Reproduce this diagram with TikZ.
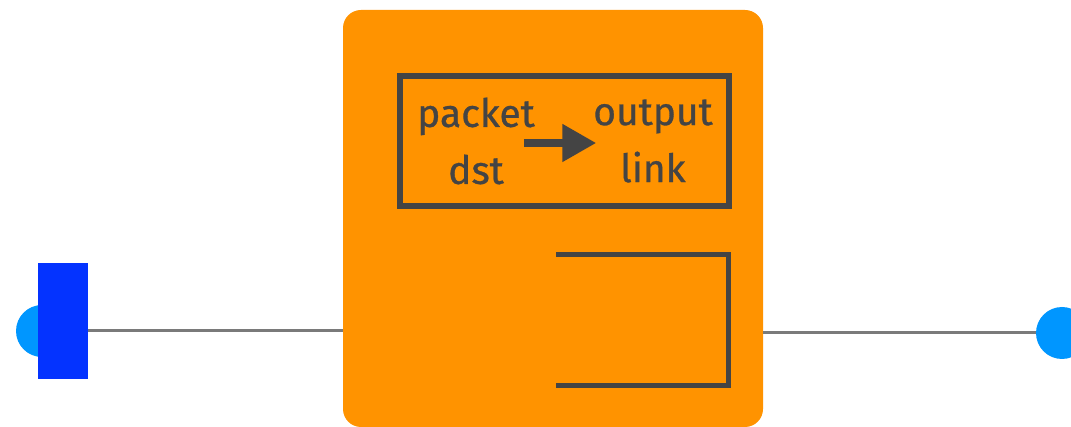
\documentclass[tikz,border=0pt]{standalone}
\usepackage{fontspec}
\setmainfont{Fira Sans}[UprightFeatures={FakeBold=0.8}]
\usetikzlibrary{arrows.meta}
\definecolor{tangerine}{HTML}{FF9300}
\definecolor{blueberry}{HTML}{0433FF}
\definecolor{aqua}{HTML}{0096FF}
\definecolor{tungsten}{HTML}{444444}
\definecolor{steel}{HTML}{7A7A7A}
\begin{document}
\begin{tikzpicture}[
x=1pt,y=-1pt,
every node/.style={inner sep=0pt,outer sep=0pt},
port/.style={circle,fill=aqua,minimum size=52pt},
queue/.style={rectangle,fill=blueberry,minimum width=50pt,minimum height=116pt},
switchbox/.style={rectangle,rounded corners=18pt,fill=tangerine,minimum width=420pt,minimum height=417pt},
tablebox/.style={rectangle,draw=tungsten,line width=6pt,minimum width=329pt,minimum height=130pt},
entry/.style={text=tungsten,align=center,font=\fontsize{39}{57}\selectfont},
wire/.style={draw=steel,line width=3pt},
maparrow/.style={draw=tungsten,line width=8pt,-{Triangle[length=34pt,width=36pt]}},
]
\useasboundingbox (0,0) rectangle (1071,427);
\node[port] (inport) at (42,331) {};
\node[queue] (inqueue) at (63,321) {};
\node[switchbox] (switch) at (553,218.5) {};
\node[port] (outport) at (1062,333) {};
\draw[wire] (inqueue.east |- inport) -- (switch.west |- inport);
\draw[wire] (switch.east |- outport) -- (outport);
\node[tablebox] (fwdtable) at (564.5,141) {};
\node[entry] (key) at (476,141) {packet\\dst};
\node[entry] (val) at (653,141) {output\\link};
\draw[maparrow] ([xshift=-11pt,yshift=-2pt]key.east) -- ([xshift=3pt,yshift=-2pt]val.west);
\draw[tungsten,line width=5pt] (556,255) -| (728,386) -- (556,386);
\end{tikzpicture}
\end{document}
